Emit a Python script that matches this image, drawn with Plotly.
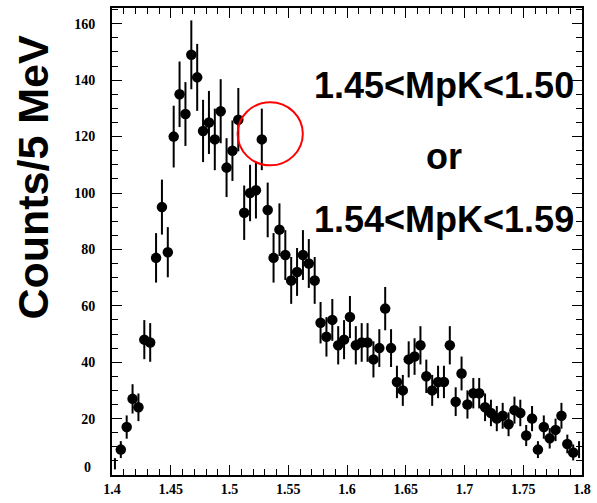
import plotly.graph_objects as go

# bin centres: 5 MeV bins from 1.400 to 1.800 GeV
bin_low = 1.40
bin_width = 0.005
counts = [4, 9, 17, 27, 24, 48, 47, 77, 95, 79,
          120, 135, 128, 149, 141, 122, 125, 119, 129, 109,
          115, 126, 93, 100, 101, 119, 94, 77, 87, 78,
          69, 72, 78, 75, 69, 54, 49, 55, 46, 48,
          56, 46, 47, 47, 41, 45, 59, 45, 33, 30,
          41, 42, 46, 35, 30, 33, 33, 46, 26, 36,
          25, 29, 29, 24, 22, 20, 21, 18, 23, 22,
          14, 20, 9, 17, 13, 16, 21, 11, 8, 9]
mass = [bin_low + bin_width * (i + 0.5) for i in range(len(counts))]
errors = [c ** 0.5 for c in counts]
# ROOT does not draw markers that touch the frame edge
marker_sizes = [0 if (i == 0 or i == len(counts) - 1) else 10.5 for i in range(len(counts))]

x_ticks = [1.4, 1.45, 1.5, 1.55, 1.6, 1.65, 1.7, 1.75, 1.8]
x_tick_text = ["1.4", "1.45", "1.5", "1.55", "1.6", "1.65", "1.7", "1.75", "1.8"]
y_ticks = [20, 40, 60, 80, 100, 120, 140, 160]
y_tick_text = [str(v) for v in y_ticks]

circle_x = [1.5069, 1.5624]
circle_y = [109.8, 132.2]

fig = go.Figure()
fig.add_trace(go.Scatter(
    x=mass, y=counts, mode="markers",
    marker=dict(color="black", size=marker_sizes, opacity=1, line=dict(width=0)),
    error_y=dict(type="data", array=errors, visible=True, color="black",
                 thickness=2, width=0),
    showlegend=False, cliponaxis=True, opacity=1,
))

fig.add_shape(type="circle", xref="x", yref="y",
              x0=circle_x[0], x1=circle_x[1], y0=circle_y[0], y1=circle_y[1],
              line=dict(color="red", width=2))

big = dict(family="Liberation Sans", size=36, color="black", weight="bold")
fig.add_annotation(text="1.45<MpK<1.50", xref="paper", yref="paper", x=0.706, y=0.834,
                   xanchor="center", yanchor="middle", showarrow=False, font=big)
fig.add_annotation(text="or", xref="paper", yref="paper", x=0.706, y=0.683,
                   xanchor="center", yanchor="middle", showarrow=False, font=big)
fig.add_annotation(text="1.54<MpK<1.59", xref="paper", yref="paper", x=0.706, y=0.547,
                   xanchor="center", yanchor="middle", showarrow=False, font=big)
fig.add_annotation(text="Counts/5 MeV", xref="paper", yref="paper", x=-0.169, y=0.638,
                   xanchor="center", yanchor="middle", showarrow=False, textangle=-90,
                   font=dict(family="Liberation Sans", size=43, color="black", weight="bold"))
fig.add_annotation(text="0", xref="paper", yref="paper", x=-0.04, y=0.015,
                   xanchor="right", yanchor="middle", showarrow=False,
                   font=dict(family="Liberation Serif", size=14, color="black", weight="bold"))

fig.update_xaxes(range=[1.4, 1.8], tickvals=x_ticks, ticktext=x_tick_text,
                 ticks="inside", ticklen=10, tickwidth=1, tickcolor="black",
                 minor=dict(dtick=0.01, tick0=1.4, ticks="inside", ticklen=6, tickcolor="black"),
                 showline=True, linecolor="black", linewidth=2, mirror="ticks",
                 showgrid=False, zeroline=False,
                 tickfont=dict(family="Liberation Serif", size=14, color="black", weight="bold"))
fig.update_yaxes(range=[0, 165.6], tickvals=y_ticks, ticktext=y_tick_text,
                 ticks="inside", ticklen=10, tickwidth=1, tickcolor="black",
                 minor=dict(dtick=5, tick0=0, ticks="inside", ticklen=6, tickcolor="black"),
                 showline=True, linecolor="black", linewidth=2, mirror="ticks",
                 showgrid=False, zeroline=False, ticklabelstandoff=12,
                 tickfont=dict(family="Liberation Serif", size=14, color="black", weight="bold"))

fig.update_layout(width=597, height=503, margin=dict(l=112, r=11, t=6, b=21),
                  paper_bgcolor="white", plot_bgcolor="white")

fig.write_html("out.html")
